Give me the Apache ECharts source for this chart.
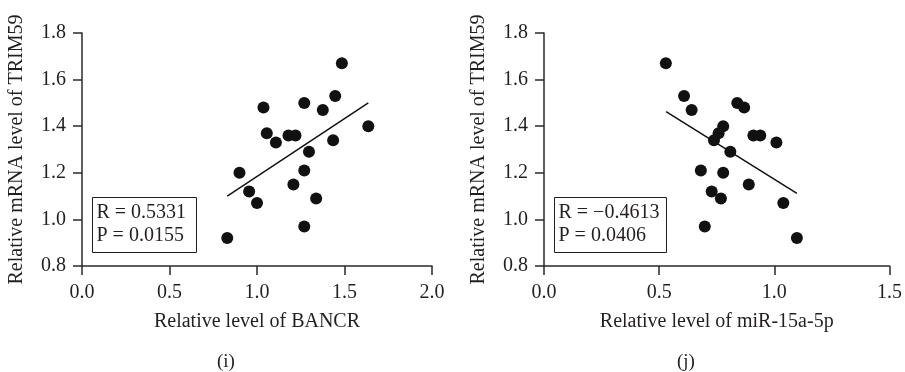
<!DOCTYPE html>
<html>
<head>
<meta charset="utf-8">
<script src="https://cdn.jsdelivr.net/npm/echarts@6/dist/echarts.min.js"></script>
<style>
  html, body { margin: 0; padding: 0; background: #fff; }
  #chart { width: 905px; height: 372px; }
</style>
</head>
<body>
<div id="chart"></div>
<script>
// panel (i): BANCR vs TRIM59
const bancrX = [0.83, 0.90, 0.955, 1.00, 1.037, 1.056, 1.108, 1.18, 1.22, 1.208,
  1.27, 1.27, 1.27, 1.297, 1.338, 1.376, 1.435, 1.447, 1.485, 1.636]
const trimY_i = [0.92, 1.20, 1.12, 1.07, 1.48, 1.37, 1.33, 1.36, 1.36, 1.15,
  1.50, 1.21, 0.97, 1.29, 1.09, 1.47, 1.34, 1.53, 1.67, 1.40]
const fitX_i = [0.83, 1.636]
const fitY_i = [1.10, 1.50]

// panel (j): miR-15a-5p vs TRIM59
const mirX = [0.529, 0.608, 0.641, 0.681, 0.698, 0.728, 0.738, 0.758, 0.778, 0.778,
  0.768, 0.809, 0.839, 0.869, 0.889, 0.909, 0.939, 1.009, 1.039, 1.098]
const trimY_j = [1.67, 1.53, 1.47, 1.21, 0.97, 1.12, 1.34, 1.37, 1.40, 1.20,
  1.09, 1.29, 1.50, 1.48, 1.15, 1.36, 1.36, 1.33, 1.07, 0.92]
const fitX_j = [0.53, 1.098]
const fitY_j = [1.463, 1.112]

const xTicks_i = [0, 2, 0.5]     // min, max, step
const xTicks_j = [0, 1.5, 0.5]
const yTicks = [0.8, 1.8, 0.2]

const statsI = ['R = 0.5331', 'P = 0.0155']
const statsJ = ['R = \u22120.4613', 'P = 0.0406']

const font = "'Liberation Serif', 'DejaVu Serif', serif"
const ink = '#231f20'

function pairs(xs, ys) {
    return xs.map((x, i) => [x, ys[i]])
}

function xAxisOf(idx, ticks, name) {
    return {
        gridIndex: idx,
        type: 'value',
        min: ticks[0],
        max: ticks[1],
        interval: ticks[2],
        name: name,
        nameLocation: 'middle',
        nameGap: 46,
        nameTextStyle: { color: ink, fontFamily: font, fontSize: 20 },
        axisLine: { show: true, lineStyle: { color: '#2a2a2a', width: 1.5 } },
        axisTick: { show: true, length: 9, lineStyle: { color: '#2a2a2a', width: 1.5 } },
        axisLabel: {
            color: ink, fontFamily: font, fontSize: 20, margin: 17,
            formatter: v => v.toFixed(1)
        },
        splitLine: { show: false }
    }
}

function yAxisOf(idx) {
    return {
        gridIndex: idx,
        type: 'value',
        min: yTicks[0],
        max: yTicks[1],
        interval: yTicks[2],
        name: 'Relative mRNA level of TRIM59',
        nameLocation: 'middle',
        nameGap: 55,
        nameTextStyle: { color: ink, fontFamily: font, fontSize: 20 },
        axisLine: { show: true, lineStyle: { color: '#2a2a2a', width: 1.5 } },
        axisTick: { show: true, length: 9, lineStyle: { color: '#2a2a2a', width: 1.5 } },
        axisLabel: {
            color: ink, fontFamily: font, fontSize: 20, margin: 16,
            formatter: v => v.toFixed(1)
        },
        splitLine: { show: false }
    }
}

function statBox(left, w, lines) {
    return {
        type: 'group',
        left: left,
        top: 197,
        children: [
            { type: 'rect', shape: { x: 0, y: 0, width: w, height: 55 },
              style: { fill: '#fff', stroke: ink, lineWidth: 1 } },
            { type: 'text', x: 4, y: 4,
              style: { text: lines.join('\n'), fill: ink, font: '20px ' + font, lineHeight: 23 } }
        ]
    }
}

let option = {
    animation: false,
    backgroundColor: '#fff',
    grid: [
        { left: 82, top: 33, width: 350, height: 233 },
        { left: 544, top: 33, width: 349, height: 233 }
    ],
    xAxis: [
        xAxisOf(0, xTicks_i, 'Relative level of BANCR'),
        xAxisOf(1, xTicks_j, 'Relative level of miR-15a-5p')
    ],
    yAxis: [yAxisOf(0), yAxisOf(1)],
    series: [
        {
            type: 'line', xAxisIndex: 0, yAxisIndex: 0,
            data: pairs(fitX_i, fitY_i), symbol: 'none',
            lineStyle: { color: '#111', width: 1.5 }, z: 1
        },
        {
            type: 'scatter', xAxisIndex: 0, yAxisIndex: 0,
            data: pairs(bancrX, trimY_i), symbolSize: 12,
            itemStyle: { color: '#111', opacity: 1 }, z: 2
        },
        {
            type: 'line', xAxisIndex: 1, yAxisIndex: 1,
            data: pairs(fitX_j, fitY_j), symbol: 'none',
            lineStyle: { color: '#111', width: 1.5 }, z: 1
        },
        {
            type: 'scatter', xAxisIndex: 1, yAxisIndex: 1,
            data: pairs(mirX, trimY_j), symbolSize: 12,
            itemStyle: { color: '#111', opacity: 1 }, z: 2
        }
    ],
    graphic: [
        statBox(92, 104, statsI),
        statBox(554, 112, statsJ),
        { type: 'text', left: 217, top: 353,
          style: { text: '(i)', fill: ink, font: '19px ' + font } },
        { type: 'text', left: 677, top: 353,
          style: { text: '(j)', fill: ink, font: '19px ' + font } }
    ]
}

// eslint-disable-next-line no-undef
var myChart = echarts.init(document.getElementById('chart'))
myChart.setOption(option)
window.addEventListener('resize', function() {
    myChart.resize()
})
</script>
</body>
</html>
